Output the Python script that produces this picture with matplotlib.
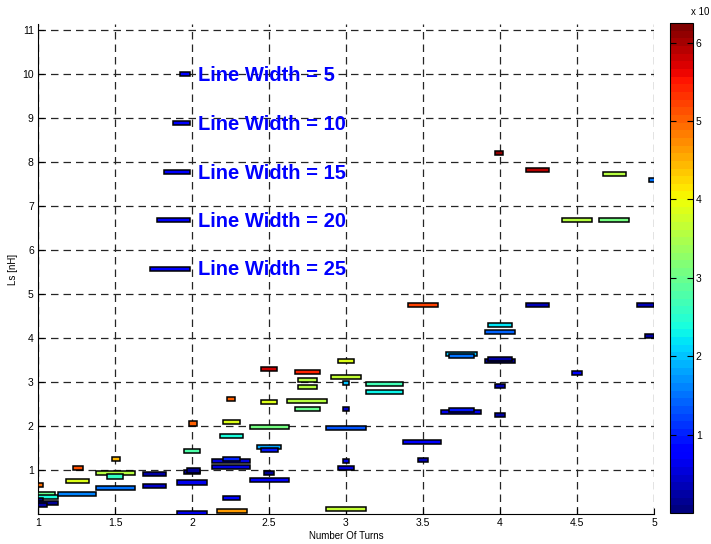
import numpy as np
import matplotlib
matplotlib.use('Agg')
import matplotlib.pyplot as plt
from matplotlib import colors

plt.rcParams['font.family'] = ['Liberation Sans', 'DejaVu Sans']

# bars: start / end (turns), inductance Ls [nH], colour value
x_start = [1.00, 1.00, 1.00, 1.00, 1.00, 1.00, 1.13, 1.18, 1.23, 1.48,
           1.38, 1.45, 1.38, 1.68, 1.68, 1.98, 1.95, 1.95, 1.97, 1.90,
           1.90, 2.16, 2.20, 2.13, 2.13, 2.20, 2.18, 2.20, 2.23, 2.38,
           2.42, 2.45, 2.47, 2.38, 2.45, 2.45, 2.67, 2.69, 2.69, 2.62,
           2.67, 2.87, 2.95, 2.90, 2.98, 2.98, 2.98, 2.95, 2.87, 3.13,
           3.13, 3.37, 3.47, 3.40, 3.65, 3.67, 3.62, 3.67, 3.92, 3.90,
           3.90, 3.92, 3.97, 3.97, 3.97, 4.17, 4.67, 4.97, 4.40, 4.64,
           4.17, 4.89, 4.94, 4.47]
x_end = [1.03, 1.11, 1.13, 1.03, 1.13, 1.06, 1.38, 1.33, 1.29, 1.53,
         1.63, 1.55, 1.63, 1.83, 1.83, 2.03, 2.05, 2.05, 2.05, 2.10,
         2.10, 2.36, 2.31, 2.38, 2.38, 2.31, 2.33, 2.31, 2.28, 2.63,
         2.58, 2.56, 2.53, 2.63, 2.55, 2.55, 2.83, 2.81, 2.81, 2.88,
         2.83, 3.13, 3.05, 3.10, 3.02, 3.02, 3.02, 3.05, 3.13, 3.37,
         3.37, 3.62, 3.53, 3.60, 3.85, 3.83, 3.88, 3.83, 4.08, 4.10,
         4.10, 4.08, 4.03, 4.03, 4.02, 4.32, 4.82, 5.01, 4.60, 4.84,
         4.32, 5.00, 5.00, 4.53]
ls_nh = [0.66, 0.45, 0.39, 0.32, 0.25, 0.20, 0.45, 0.75, 1.05, 1.25,
         0.93, 0.85, 0.59, 0.91, 0.64, 2.06, 1.43, 0.95, 0.99, 0.72,
         0.02, 0.07, 0.36, 1.07, 1.20, 1.25, 1.77, 2.09, 2.61, 1.98,
         1.52, 1.45, 0.93, 0.77, 3.30, 2.55, 3.23, 3.05, 2.89, 2.57,
         2.39, 1.95, 3.48, 3.12, 2.98, 2.39, 1.20, 1.05, 0.11, 2.95,
         2.77, 1.64, 1.23, 4.75, 3.64, 3.59, 2.32, 2.36, 4.29, 4.14,
         3.48, 3.53, 2.91, 2.25, 8.20, 7.82, 7.73, 7.59, 6.68, 6.68,
         4.75, 4.75, 4.05, 3.20]
cval = [4.9, 3.0, 2.4, 0.1, 0.1, 0.2, 1.6, 3.9, 5.1, 4.4,
        3.6, 2.6, 1.5, 0.2, 0.4, 5.0, 2.8, 0.1, 0.1, 0.6,
        0.6, 4.6, 0.8, 0.5, 0.5, 1.0, 2.4, 3.9, 5.0, 3.1,
        1.8, 0.9, 0.1, 0.7, 5.8, 3.9, 5.4, 3.6, 3.6, 3.6,
        3.0, 1.3, 3.9, 3.7, 2.0, 0.4, 0.6, 0.5, 3.7, 2.7,
        2.3, 0.7, 0.3, 5.2, 2.0, 1.5, 0.6, 0.9, 2.2, 1.4,
        0.1, 0.2, 0.3, 0.2, 6.1, 5.9, 3.6, 1.5, 3.6, 3.1,
        0.3, 0.3, 0.2, 0.8]

# line width key
key_labels = ['Line Width = 5', 'Line Width = 10', 'Line Width = 15',
              'Line Width = 20', 'Line Width = 25']
key_start = [1.92, 1.88, 1.82, 1.77, 1.73]
key_end = [1.99, 1.99, 1.99, 1.99, 1.99]
key_y = [10.0, 8.88, 7.78, 6.68, 5.58]
key_c = [0.7, 0.7, 0.7, 0.7, 0.7]

cmap = plt.get_cmap('jet', 64)
norm = colors.Normalize(vmin=0, vmax=6.25)

fig = plt.figure(figsize=(7.11, 5.44), dpi=100)
ax = fig.add_axes([0.0534, 0.0551, 0.8664, 0.9009])

w = np.array(x_end) - np.array(x_start)
ax.barh(ls_nh, w, left=x_start, height=0.1, color=cmap(norm(np.array(cval))),
        edgecolor='k', linewidth=1.1, zorder=3)

kw = np.array(key_end) - np.array(key_start)
ax.barh(key_y, kw, left=key_start, height=0.09, color=cmap(norm(np.array(key_c))),
        edgecolor='k', linewidth=1.1, zorder=3)
for lab, y in zip(key_labels, key_y):
    ax.text(2.04, y - 0.03, lab, color='#0000ff', fontsize=14.5, fontweight='bold',
            va='center', ha='left', zorder=4)

ax.set_xlim(1, 5)
ax.set_ylim(0, 11.14)
ax.set_xticks([1, 1.5, 2, 2.5, 3, 3.5, 4, 4.5, 5])
ax.set_xticklabels(['1', '1.5', '2', '2.5', '3', '3.5', '4', '4.5', '5'])
ax.set_yticks(range(1, 12))
ax.grid(True, color='0.15', linestyle=(0, (6, 4)), linewidth=0.9)
ax.set_axisbelow(True)
ax.spines['right'].set_visible(False)
ax.spines['top'].set_visible(False)
ax.tick_params(direction='in', length=4, labelsize=7.5, pad=3)
ax.set_xlabel('Number Of Turns', fontsize=7, labelpad=2)
ax.set_ylabel('Ls [nH]', fontsize=7, labelpad=3)

cax = fig.add_axes([0.9423, 0.0569, 0.0323, 0.9007])
sm = matplotlib.cm.ScalarMappable(norm=norm, cmap=cmap)
cb = fig.colorbar(sm, cax=cax)
cb.set_ticks([1, 2, 3, 4, 5, 6])
cb.ax.tick_params(direction='in', left=True, right=True, length=4, labelsize=7.5, pad=2)
cb.outline.set_linewidth(0.8)
fig.text(0.972, 0.968, 'x 10', fontsize=7, ha='left', va='bottom')

fig.savefig('out.png', dpi=100)
